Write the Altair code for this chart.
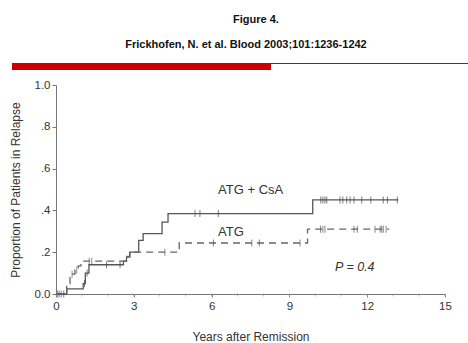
import altair as alt
import pandas as pd

# Step curves (time in years, cumulative proportion in relapse)
years_csa = [0, 0.42, 1.05, 1.13, 1.27, 2.6, 2.72, 2.84, 3.19, 3.36, 4.09, 4.32, 9.9, 13.2]
prop_csa = [0, 0.025, 0.05, 0.1, 0.14, 0.157, 0.176, 0.2, 0.257, 0.289, 0.344, 0.385, 0.45, 0.45]

years_atg = [0, 0.41, 0.54, 0.73, 0.86, 0.96, 2.7, 2.85, 4.75, 9.7, 12.85]
prop_atg = [0, 0.05, 0.095, 0.115, 0.135, 0.157, 0.18, 0.2, 0.244, 0.31, 0.31]

# Censored observations (years)
censor_csa = [0.12, 0.3, 1.1, 1.2, 1.95, 2.47, 5.36, 5.55, 6.26, 10.21, 10.29, 10.37,
              10.44, 10.95, 11.06, 11.21, 11.34, 11.49, 11.79, 12.14, 12.62, 12.78, 13.16]
censor_atg = [0.05, 0.2, 0.62, 0.8, 1.28, 1.38, 4.2, 6.07, 7.55, 7.84, 9.41, 10.2,
              10.29, 10.37, 11.49, 11.62, 12.3, 12.5, 12.56, 12.62, 12.73]

labels_text = ["ATG + CsA", "ATG"]
labels_x = [6.25, 6.25]
labels_y = [0.496, 0.295]
p_text = ["P = 0.4"]
p_x = [10.76]
p_y = [0.127]

x_major = [0, 3, 6, 9, 12, 15]
x_minor = list(range(16))
y_ticks = [0, 0.2, 0.4, 0.6, 0.8, 1.0]


def step_value(t, xs, ys):
    v = ys[0]
    for xx, yy in zip(xs, ys):
        if xx <= t:
            v = yy
    return v


df_csa = pd.DataFrame({"t": years_csa, "p": prop_csa})
df_atg = pd.DataFrame({"t": years_atg, "p": prop_atg})
df_ccsa = pd.DataFrame({"t": censor_csa, "p": [step_value(t, years_csa, prop_csa) for t in censor_csa]})
df_catg = pd.DataFrame({"t": censor_atg, "p": [step_value(t, years_atg, prop_atg) for t in censor_atg]})
df_lab = pd.DataFrame({"txt": labels_text, "t": labels_x, "p": labels_y})
df_p = pd.DataFrame({"txt": p_text, "t": p_x, "p": p_y})
df_minor = pd.DataFrame({"t": x_minor})

xscale = alt.Scale(domain=[0, 15], nice=False, zero=False)
yscale = alt.Scale(domain=[0, 1], nice=False)

xaxis = alt.Axis(values=x_major, labelOverlap=False, labelFlush=False, format="d",
                 title="Years after Remission", grid=False, tickSize=3, labelPadding=3,
                 titlePadding=20, labelFontSize=11.5, titleFontSize=12, labelColor="#333",
                 titleColor="#333", domainColor="#777", tickColor="#888",
                 labelFont="Liberation Sans", titleFont="Liberation Sans", titleFontWeight="normal")
yaxis = alt.Axis(values=y_ticks, labelOverlap=False, labelFlush=False,
                 labelExpr="datum.value == 0 ? '0.0' : datum.value == 1 ? '1.0' : replace(format(datum.value, '.1f'), '0.', '.')",
                 title="Proportion of Patients in Relapse", grid=False, tickSize=4, labelPadding=2,
                 titlePadding=12, labelFontSize=11.5, titleFontSize=12, labelColor="#333",
                 titleColor="#333", domainColor="#777", tickColor="#777",
                 labelFont="Liberation Sans", titleFont="Liberation Sans", titleFontWeight="normal")

X = alt.X("t:Q", scale=xscale, axis=xaxis)
Y = alt.Y("p:Q", scale=yscale, axis=yaxis)

line_csa = alt.Chart(df_csa).mark_line(interpolate="step-after", color="#555", strokeWidth=1.3).encode(x=X, y=Y)
line_atg = alt.Chart(df_atg).mark_line(interpolate="step-after", color="#666", strokeWidth=1.3,
                                       strokeDash=[7, 5]).encode(x="t:Q", y="p:Q")
tick_csa = alt.Chart(df_ccsa).mark_tick(orient="vertical", color="#444", size=7, thickness=1).encode(x="t:Q", y="p:Q")
tick_atg = alt.Chart(df_catg).mark_tick(orient="vertical", color="#555", size=7, thickness=1).encode(x="t:Q", y="p:Q")
minor = alt.Chart(df_minor).mark_tick(orient="vertical", color="#999", size=3, thickness=1).encode(
    x="t:Q", y=alt.value(210))

labels = alt.Chart(df_lab).mark_text(align="left", baseline="middle", fontSize=13,
                                     font="Liberation Sans", color="#333").encode(
    x="t:Q", y="p:Q", text="txt:N")
plabel = alt.Chart(df_p).mark_text(align="left", baseline="middle", fontSize=12.5, fontStyle="italic",
                                   font="Liberation Sans", color="#333").encode(
    x="t:Q", y="p:Q", text="txt:N")

head1 = alt.Chart(pd.DataFrame({"txt": ["Figure 4."]})).mark_text(
    fontSize=11, fontWeight="bold", font="Liberation Sans", color="#111", align="center", baseline="middle"
).encode(text="txt:N", x=alt.value(200), y=alt.value(-65))
head2 = alt.Chart(pd.DataFrame({"txt": ["Frickhofen, N. et al. Blood 2003;101:1236-1242"]})).mark_text(
    fontSize=11, fontWeight="bold", font="Liberation Sans", color="#111", align="center", baseline="middle"
).encode(text="txt:N", x=alt.value(190), y=alt.value(-40))

red_bar = alt.Chart(pd.DataFrame({"a": [1]})).mark_rect(color="#cc0000").encode(
    x=alt.value(-44), x2=alt.value(215), y=alt.value(-22), y2=alt.value(-15))
red_line = alt.Chart(pd.DataFrame({"a": [1]})).mark_rule(color="#cc0000", strokeWidth=1.2).encode(
    x=alt.value(215), x2=alt.value(412), y=alt.value(-21.5))

chart = alt.layer(line_csa, line_atg, tick_csa, tick_atg, minor, labels, plabel, head1, head2,
                  red_bar, red_line).properties(
    width=389, height=209,
    autosize=alt.AutoSizeParams(type="none"),
    padding={"left": 56, "top": 85, "right": 23, "bottom": 49},
    background="white",
).configure_view(stroke=None)

chart.save("out.html", embed_options={"renderer": "svg", "actions": False})
